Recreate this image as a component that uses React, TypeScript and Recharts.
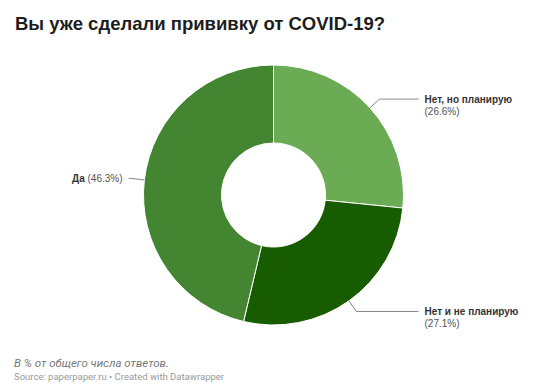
import { PieChart, Pie, Cell } from "recharts";

const answers = ["Нет, но планирую", "Нет и не планирую", "Да"];
const shares = [26.6, 27.1, 46.3];
const colors = ["#6aab53", "#185c00", "#448531"];

const data = answers.map((name, i) => ({ name, value: shares[i] }));

const RAD = Math.PI / 180;
const labelFont = "'Liberation Sans', Arial, sans-serif";

function renderLabel(props: any) {
    const { cx, cy, midAngle, outerRadius, name, value } = props;
    const cos = Math.cos(-midAngle * RAD);
    const sin = Math.sin(-midAngle * RAD);
    const sx = cx + outerRadius * cos;
    const sy = cy + outerRadius * sin;
    const ex = cx + (outerRadius + 13) * cos;
    const ey = cy + (outerRadius + 13) * sin;
    const right = cos >= 0;
    const hx = cx + (right ? 1 : -1) * (outerRadius + 15);
    const tx = hx + (right ? 6 : -6);
    const anchor = right ? "start" : "end";
    const pct = `(${value.toFixed(1)}%)`;
    const oneLine = name.length < 5;
    return (
        <g>
            <polyline
                points={`${sx},${sy} ${ex},${ey} ${hx},${ey}`}
                fill="none"
                stroke="#888"
                strokeWidth={1}
            />
            {oneLine ? (
                <text x={tx} y={ey} textAnchor={anchor} dominantBaseline="central" fontSize={10} fontFamily={labelFont}>
                    <tspan fontWeight="bold" fill="#333">{name}</tspan>
                    <tspan fill="#555"> {pct}</tspan>
                </text>
            ) : (
                <text x={tx} y={ey} textAnchor={anchor} dominantBaseline="central" fontSize={10} fontFamily={labelFont}>
                    <tspan fontWeight="bold" fill="#333">{name}</tspan>
                    <tspan x={tx} dy={12} fill="#555">{pct}</tspan>
                </text>
            )}
        </g>
    );
}

export default function App() {
    return (
        <div
            style={{
                position: "fixed",
                left: 0,
                top: 0,
                width: 559,
                height: 392,
                background: "#fff",
                fontFamily: "Roboto, sans-serif",
            }}
        >
            <div
                style={{
                    position: "absolute",
                    left: 15,
                    top: 13,
                    fontSize: 18.5,
                    fontWeight: 700,
                    fontFamily: labelFont,
                    color: "#1d1d1d",
                    whiteSpace: "nowrap",
                }}
            >
                Вы уже сделали прививку от COVID-19?
            </div>
            <div style={{ position: "absolute", left: 0, top: 0 }}>
                <PieChart width={559} height={392} margin={{ top: 0, right: 0, bottom: 0, left: 0 }}>
                    <Pie
                        data={data}
                        dataKey="value"
                        nameKey="name"
                        cx={273.5}
                        cy={195}
                        innerRadius={52}
                        outerRadius={130}
                        startAngle={90}
                        endAngle={-270}
                        stroke="#fff"
                        strokeWidth={1}
                        label={renderLabel}
                        labelLine={false}
                        isAnimationActive={false}
                    >
                        {data.map((d, i) => (
                            <Cell key={d.name} fill={colors[i]} />
                        ))}
                    </Pie>
                </PieChart>
            </div>
            <div
                style={{
                    position: "absolute",
                    left: 14,
                    top: 356,
                    fontSize: 11.5,
                    fontStyle: "italic",
                    color: "#777",
                    whiteSpace: "nowrap",
                }}
            >
                В % от общего числа ответов.
            </div>
            <div
                style={{
                    position: "absolute",
                    left: 14,
                    top: 371,
                    fontSize: 9.5,
                    color: "#999",
                    whiteSpace: "nowrap",
                }}
            >
                Source: paperpaper.ru • Created with Datawrapper
            </div>
        </div>
    );
}
